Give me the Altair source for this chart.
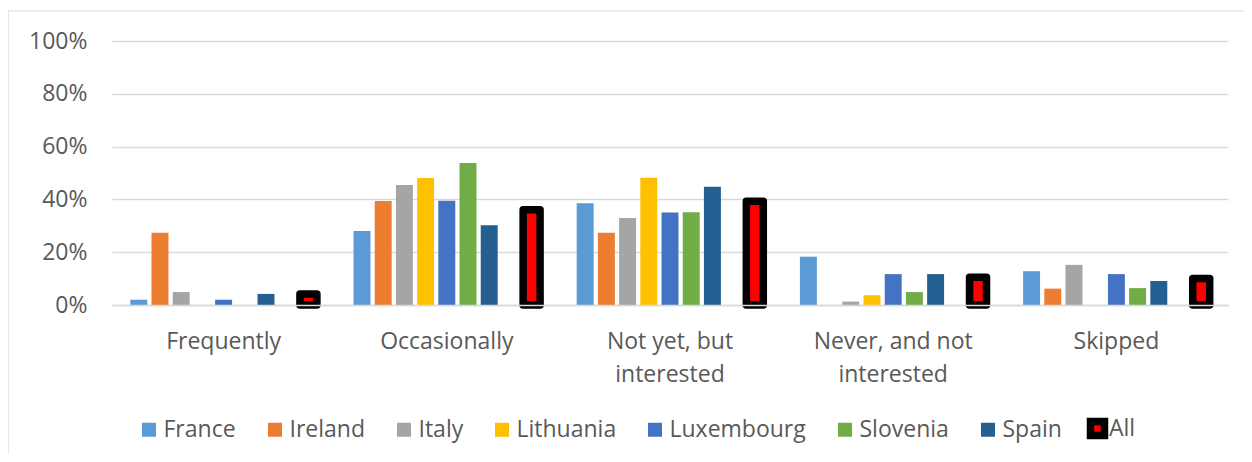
import altair as alt
import pandas as pd

categories = ["Frequently", "Occasionally", "Not yet, but interested",
              "Never, and not interested", "Skipped"]
countries = ["France", "Ireland", "Italy", "Lithuania", "Luxembourg",
             "Slovenia", "Spain"]
country_colors = ["#5B9BD5", "#ED7D31", "#A5A5A5", "#FFC000", "#4472C4",
                  "#70AD47", "#255E91"]
all_name = "All"
all_fill = "#FF0000"
all_stroke = "#000000"

# percentages per category (Frequently, Occasionally, Not yet, Never, Skipped)
france = [2.0, 28.0, 38.5, 18.3, 12.8]
ireland = [27.4, 39.4, 27.4, 0.0, 6.2]
italy = [4.9, 45.5, 33.0, 1.3, 15.2]
lithuania = [0.0, 48.1, 48.2, 3.7, 0.0]
luxembourg = [2.0, 39.5, 35.0, 11.7, 11.7]
slovenia = [0.0, 53.8, 35.1, 4.9, 6.4]
spain = [4.2, 30.2, 44.8, 11.7, 9.1]
all_countries = [4.2, 36.1, 39.3, 10.5, 10.0]

series = countries + [all_name]
values = [france, ireland, italy, lithuania, luxembourg, slovenia, spain, all_countries]

rows = []
for s, vals in zip(series, values):
    for c, v in zip(categories, vals):
        rows.append({"category": c, "series": s, "value": v / 100.0})
df = pd.DataFrame(rows)

offset_domain = countries + ["_gap_", all_name]

label_expr = ("datum.label == 'Not yet, but interested' ? ['Not yet, but', 'interested'] : "
              "datum.label == 'Never, and not interested' ? ['Never, and not', 'interested'] : datum.label")

FONT = "Open Sans"
TXT = "#595959"
GRID = "#D9D9D9"
FS = 23

base = alt.Chart(df).encode(
    x=alt.X("category:N", sort=categories,
            scale=alt.Scale(paddingInner=0.145, paddingOuter=0.0725),
            axis=alt.Axis(title=None, labelAngle=0, ticks=False, tickSize=0,
                          domain=True, domainColor=GRID, domainWidth=1.4,
                          labelPadding=25, labelLineHeight=33, labelExpr=label_expr,
                          labelFont=FONT, labelFontSize=FS, labelColor=TXT,
                          zindex=1)),
    xOffset=alt.XOffset("series:N", scale=alt.Scale(domain=offset_domain,
                                                     paddingInner=0.2, paddingOuter=0.1)),
    y=alt.Y("value:Q", scale=alt.Scale(domain=[0, 1]),
            axis=alt.Axis(title=None, values=[0, 0.2, 0.4, 0.6, 0.8, 1.0], format=".0%",
                          grid=True, gridColor=GRID, gridWidth=1.4, domain=False,
                          ticks=False, tickSize=0, labelPadding=25,
                          labelFont=FONT, labelFontSize=FS, labelColor=TXT)),
)

country_bars = base.transform_filter(
    alt.FieldOneOfPredicate(field="series", oneOf=countries)
).mark_bar(strokeWidth=0).encode(
    fill=alt.Fill("series:N", scale=alt.Scale(domain=countries, range=country_colors),
                  legend=alt.Legend(
                      title=None, orient="none", legendX=25.5, legendY=377,
                      direction="horizontal", columns=7, symbolType="square",
                      symbolSize=196, symbolStrokeWidth=0, labelFont=FONT,
                      labelFontSize=FS, labelColor=TXT, columnPadding=27,
                      labelOffset=3, padding=0, symbolOpacity=1)),
)

all_bars = base.transform_filter(
    alt.FieldEqualPredicate(field="series", equal=all_name)
).mark_bar(stroke=all_stroke, strokeWidth=7.5, strokeJoin="round").encode(
    fill=alt.Fill("series:N", scale=alt.Scale(domain=[all_name], range=[all_fill]),
                  legend=alt.Legend(
                      title=None, orient="none", legendX=974, legendY=376,
                      direction="horizontal", symbolType="square",
                      symbolSize=196, symbolStrokeColor=all_stroke,
                      symbolStrokeWidth=7.5, labelFont=FONT,
                      labelFontSize=FS, labelColor=TXT,
                      labelOffset=0, padding=0, symbolOpacity=1)),
)

frame_df = pd.DataFrame({"k": [0]})
frame_left = alt.Chart(frame_df).mark_rule(color=GRID, strokeWidth=1.2).encode(
    x=alt.value(-104), y=alt.value(-30), y2=alt.value(460))
frame_top = alt.Chart(frame_df).mark_rule(color=GRID, strokeWidth=1.2).encode(
    x=alt.value(-104), x2=alt.value(1200), y=alt.value(-30))

chart = alt.layer(frame_left, frame_top, country_bars, all_bars).resolve_scale(
    fill="independent"
).properties(
    width=1116, height=264,
    autosize=alt.AutoSizeParams(type="none"),
    padding={"left": 104, "top": 33, "right": 16, "bottom": 149},
).configure_view(stroke=None)

chart.save("out.html", embed_options={"renderer": "svg", "actions": False})
